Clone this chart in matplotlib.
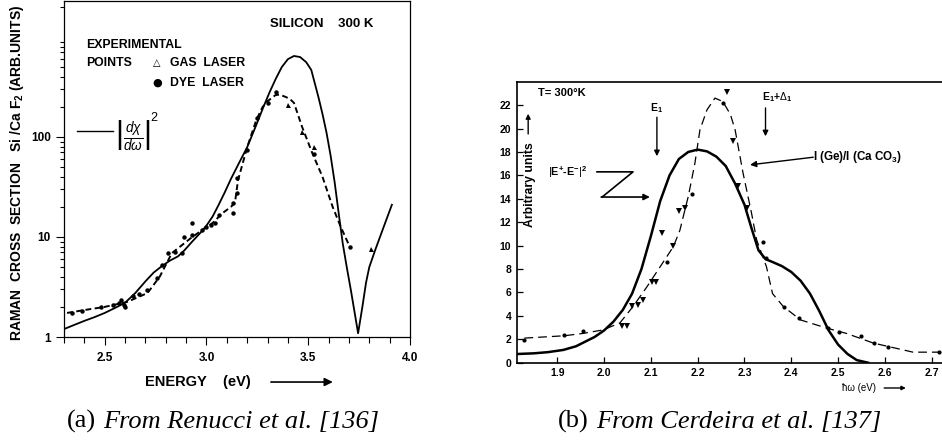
import matplotlib
matplotlib.use("Agg")
import matplotlib.pyplot as plt
from matplotlib.ticker import FixedLocator, LogLocator, NullFormatter, FuncFormatter

plt.rcParams['font.family'] = ['Liberation Sans', 'DejaVu Sans']
plt.rcParams['mathtext.fontset'] = 'custom'
plt.rcParams['mathtext.rm'] = 'Liberation Sans'
plt.rcParams['mathtext.it'] = 'Liberation Sans:italic'
plt.rcParams['mathtext.bf'] = 'Liberation Sans:bold'

# ---- silicon, 300 K (log scale) ----
si_theory_E = [2.30, 2.35, 2.40, 2.45, 2.50, 2.55, 2.60, 2.65, 2.70, 2.74, 2.78, 2.82,
               2.86, 2.89, 2.93, 2.97, 3.00, 3.03, 3.06, 3.09, 3.12, 3.16, 3.20, 3.24,
               3.28, 3.31, 3.34, 3.37, 3.40, 3.43, 3.46, 3.49, 3.515, 3.55, 3.57, 3.59,
               3.61, 3.63, 3.65, 3.67, 3.69, 3.71, 3.73, 3.745, 3.766, 3.784, 3.80,
               3.83, 3.87, 3.911]
si_theory = [1.2, 1.32, 1.45, 1.58, 1.74, 1.95, 2.2, 2.75, 3.6, 4.4, 5.1, 5.8,
             6.4, 7.3, 9.0, 11.0, 13.0, 16.0, 21.0, 28.0, 38.0, 55.0, 79.0, 125.0,
             200.0, 280.0, 380.0, 500.0, 600.0, 646.0, 630.0, 560.0, 468.0, 251.0, 170.0, 110.0,
             65.0, 35.0, 17.0, 8.5, 4.9, 2.9, 1.66, 1.09, 2.0, 3.5, 5.0,
             7.5, 12.5, 21.0]

si_fit_E = [2.315, 2.40, 2.50, 2.61, 2.71, 2.77, 2.83, 2.93, 3.03, 3.08, 3.12, 3.14,
            3.155, 3.20, 3.245, 3.276, 3.30, 3.34, 3.36, 3.39, 3.41, 3.43, 3.47, 3.52,
            3.57, 3.62, 3.66, 3.705]
si_fit = [1.74, 1.86, 2.0, 2.24, 2.75, 4.0, 6.9, 10.0, 13.8, 17.4, 20.0, 22.0,
          37.0, 79.0, 148.0, 200.0, 228.0, 263.0, 265.0, 251.0, 240.0, 219.0, 126.0, 69.0,
          40.0, 20.0, 12.6, 7.9]

dye_E = [2.34, 2.39, 2.48, 2.54, 2.57, 2.58, 2.595, 2.60, 2.64, 2.67, 2.71, 2.755,
         2.78, 2.81, 2.845, 2.88, 2.89, 2.93, 2.93, 2.98, 3.00, 3.02, 3.04, 3.06,
         3.13, 3.13, 3.15, 3.15, 3.20, 3.25, 3.30, 3.34, 3.53, 3.705]
dye = [1.75, 1.82, 2.0, 2.09, 2.2, 2.34, 2.1, 2.0, 2.57, 2.69, 2.95, 3.9,
       5.25, 6.9, 7.1, 6.9, 10.0, 13.8, 10.5, 11.7, 12.6, 13.2, 13.8, 16.6,
       17.4, 22.0, 27.5, 39.0, 74.0, 155.0, 219.0, 282.0, 68.0, 7.9]

gas_E = [3.40, 3.47, 3.53, 3.81]
gas = [209.0, 112.0, 79.0, 7.6]

# ---- germanium, 300 K (linear scale) ----
ge_theory_E = [1.813, 1.85, 1.88, 1.913, 1.94, 1.96, 1.98, 2.00, 2.02, 2.04, 2.06,
               2.08, 2.10, 2.12, 2.14, 2.16, 2.18, 2.20, 2.22, 2.24, 2.26, 2.28,
               2.30, 2.315, 2.33, 2.345, 2.36, 2.38, 2.40, 2.42, 2.44, 2.46, 2.48,
               2.50, 2.52, 2.54, 2.564]
ge_theory = [0.74, 0.8, 0.9, 1.09, 1.4, 1.8, 2.2, 2.75, 3.5, 4.5, 5.9,
             8.0, 10.8, 13.8, 16.0, 17.4, 18.0, 18.2, 18.05, 17.6, 16.8, 15.3,
             13.5, 11.5, 9.6, 8.85, 8.6, 8.25, 7.75, 7.0, 5.9, 4.4, 2.75,
             1.55, 0.75, 0.22, 0.0]

ge_fit_E = [1.83, 1.915, 1.955, 1.998, 2.034, 2.062, 2.092, 2.12, 2.148, 2.162, 2.18,
            2.194, 2.205, 2.22, 2.237, 2.254, 2.27, 2.28, 2.297, 2.315, 2.326, 2.347,
            2.36, 2.383, 2.42, 2.476, 2.518, 2.575, 2.611, 2.66, 2.722]
ge_fit = [2.1, 2.3, 2.5, 2.8, 3.4, 4.8, 6.5, 8.2, 9.9, 11.3, 14.2,
          17.0, 19.9, 21.6, 22.6, 22.3, 21.2, 19.9, 16.2, 12.8, 10.5, 8.2,
          5.9, 4.8, 3.65, 2.95, 2.5, 1.68, 1.35, 0.9, 0.9]

ge_dots_E = [1.83, 1.915, 1.955, 2.134, 2.187, 2.254, 2.34, 2.346, 2.385, 2.417,
             2.478, 2.502, 2.55, 2.576, 2.607, 2.716]
ge_dots = [1.94, 2.35, 2.74, 8.6, 14.4, 22.2, 10.3, 8.9, 4.75, 3.8,
           2.97, 2.6, 2.28, 1.68, 1.35, 0.9]

ge_tri_E = [2.038, 2.049, 2.06, 2.073, 2.084, 2.102, 2.112, 2.123, 2.148, 2.16,
            2.173, 2.262, 2.276, 2.286, 2.305]
ge_tri = [3.1, 3.15, 4.85, 4.95, 5.35, 6.9, 6.9, 11.1, 10.0, 12.96,
          13.2, 23.1, 18.9, 15.1, 13.2]

si_xticks = [2.5, 3.0, 3.5, 4.0]
ge_xticks = [1.9, 2.0, 2.1, 2.2, 2.3, 2.4, 2.5, 2.6, 2.7]
ge_yticks = list(range(0, 24, 2))

captions = [('(a)', 'From Renucci et al. [136]'),
            ('(b)', 'From Cerdeira et al. [137]')]

fig = plt.figure(figsize=(9.42, 4.44), dpi=100)

# ================= panel (a) =================
ax = fig.add_axes([64 / 942, 107 / 444, 346 / 942, 336 / 444])
ax.set_yscale('log')
ax.set_xlim(2.3, 4.0)
ax.set_ylim(1, 2290)

ax.plot(si_theory_E, si_theory, color='k', lw=1.3)
ax.plot(si_fit_E, si_fit, color='k', lw=1.4, ls=(0, (3, 1.8)))
ax.plot(dye_E, dye, 'o', color='k', ms=3.2, mew=0)
ax.plot(gas_E, gas, '^', color='k', ms=3.6, mew=0)

ax.xaxis.set_major_locator(FixedLocator(si_xticks))
ax.xaxis.set_minor_locator(FixedLocator([2.3 + 0.1 * i for i in range(18)]))
ax.xaxis.set_major_formatter(FuncFormatter(lambda v, p: f'{v:.1f}'))
ax.yaxis.set_major_locator(FixedLocator([1, 10, 100]))
ax.yaxis.set_minor_locator(LogLocator(base=10, subs=range(2, 10)))
ax.yaxis.set_minor_formatter(NullFormatter())
ax.yaxis.set_major_formatter(FuncFormatter(lambda v, p: f'{v:g}'))
ax.tick_params(which='both', direction='out', top=False, right=False,
               labelsize=8.5, width=0.8)
ax.tick_params(axis='x', which='major', length=6, pad=5)
ax.tick_params(axis='x', which='minor', length=4)
ax.tick_params(axis='y', which='major', length=6)
ax.tick_params(axis='y', which='minor', length=3)
for lab in ax.get_xticklabels() + ax.get_yticklabels():
    lab.set_fontweight('bold')
for s in ax.spines.values():
    s.set_linewidth(0.9)

ax.text(0.595, 0.932, 'SILICON    300 K', transform=ax.transAxes, fontsize=9.5,
        va='center', ha='left', fontweight='bold')
ax.text(0.064, 0.869, 'EXPERIMENTAL', transform=ax.transAxes, fontsize=8.8,
        va='center', ha='left', fontweight='bold')
ax.text(0.064, 0.815, 'POINTS', transform=ax.transAxes, fontsize=8.8,
        va='center', ha='left', fontweight='bold')
ax.text(0.269, 0.815, '△', transform=ax.transAxes, fontsize=7, va='center',
        ha='center', family=['DejaVu Sans'])
ax.text(0.306, 0.815, 'GAS  LASER', transform=ax.transAxes, fontsize=8.8,
        va='center', ha='left', fontweight='bold')
ax.text(0.269, 0.756, '●', transform=ax.transAxes, fontsize=8, va='center',
        ha='center', family=['DejaVu Sans'])
ax.text(0.306, 0.756, 'DYE  LASER', transform=ax.transAxes, fontsize=8.8,
        va='center', ha='left', fontweight='bold')
# key for the theory curve: line sample followed by |dchi/domega|^2
ax.plot([0.038, 0.142], [0.613, 0.613], color='k', lw=1.0, transform=ax.transAxes)
ax.text(0.147, 0.600, r'$\left|\frac{d\chi}{d\omega}\right|$', transform=ax.transAxes,
        fontsize=14, va='center', ha='left')
ax.text(0.250, 0.652, '2', transform=ax.transAxes, fontsize=9, va='center', ha='left')

ax.text(-0.136, 0.488, r'RAMAN  CROSS  SECTION   Si /Ca F$_\mathregular{2}$ (ARB.UNITS)',
        transform=ax.transAxes, rotation=90, fontsize=10, fontweight='bold',
        va='center', ha='center')
ax.text(0.387, -0.134, 'ENERGY    (eV)', transform=ax.transAxes, fontsize=10.5,
        fontweight='bold', va='center', ha='center')
ax.annotate('', xy=(0.785, -0.134), xytext=(0.590, -0.134),
            xycoords='axes fraction', textcoords='axes fraction',
            arrowprops=dict(arrowstyle='-|>', color='k', lw=1.2, mutation_scale=12))

# ================= panel (b) =================
bx = fig.add_axes([516.7 / 942, 81.3 / 444, 425.3 / 942, 281 / 444])
bx.set_xlim(1.8135, 2.722)
bx.set_ylim(0, 24)

bx.plot(ge_theory_E, ge_theory, color='k', lw=1.8)
bx.plot(ge_fit_E, ge_fit, color='k', lw=0.9, ls=(0, (7, 4)))
bx.plot(ge_dots_E, ge_dots, 'o', color='k', ms=3.0, mew=0)
bx.plot(ge_tri_E, ge_tri, 'v', color='k', ms=4.2, mew=0)

bx.xaxis.set_major_locator(FixedLocator(ge_xticks))
bx.xaxis.set_major_formatter(FuncFormatter(lambda v, p: f'{v:.1f}'))
bx.yaxis.set_major_locator(FixedLocator(ge_yticks))
bx.tick_params(direction='in', length=4, width=0.9, labelsize=7.5, pad=4)
for lab in bx.get_xticklabels() + bx.get_yticklabels():
    lab.set_fontweight('bold')
bx.spines['right'].set_visible(False)
for s in ['left', 'bottom', 'top']:
    bx.spines[s].set_linewidth(1.2)

bx.text(1.859, 23.0, 'T= 300°K', fontsize=8, fontweight='bold', va='center', ha='left')
bx.text(2.113, 21.75, r'E$_\mathregular{1}$', fontsize=7.5, fontweight='bold',
        va='center', ha='center')
bx.annotate('', xy=(2.113, 17.4), xytext=(2.113, 21.2),
            arrowprops=dict(arrowstyle='-|>', color='k', lw=1.0, mutation_scale=8))
bx.text(2.369, 22.7, r'E$_\mathregular{1}$+$\Delta_\mathregular{1}$', fontsize=7.5,
        fontweight='bold', va='center', ha='center')
bx.annotate('', xy=(2.345, 19.1), xytext=(2.345, 22.0),
            arrowprops=dict(arrowstyle='-|>', color='k', lw=1.0, mutation_scale=8))
bx.text(1.842, 15.2, 'Arbitrary units', rotation=90, fontsize=8.8, fontweight='bold',
        va='center', ha='center')
bx.annotate('', xy=(1.838, 21.5), xytext=(1.838, 19.3),
            arrowprops=dict(arrowstyle='-|>', color='k', lw=1.0, mutation_scale=7))

# Z-shaped pointer from the |E+ - E-|^2 label to the solid curve
bx.text(1.880, 16.3, r'$|$E$^\mathregular{+}$-E$^\mathregular{-}|^\mathregular{2}$',
        fontsize=7.8, fontweight='bold', va='center', ha='left')
bx.plot([1.985, 2.062, 1.996], [16.3, 16.3, 14.15], color='k', lw=1.2)
bx.annotate('', xy=(2.098, 14.15), xytext=(1.994, 14.15),
            arrowprops=dict(arrowstyle='-|>', color='k', lw=1.2, mutation_scale=9,
                            shrinkA=0, shrinkB=0))

bx.text(2.446, 17.55, r'I (Ge)/I (Ca CO$_\mathregular{3}$)', fontsize=8.4,
        fontweight='bold', va='center', ha='left')
bx.annotate('', xy=(2.312, 16.9), xytext=(2.447, 17.55),
            arrowprops=dict(arrowstyle='-|>', color='k', lw=1.0, mutation_scale=9,
                            shrinkA=0, shrinkB=0))

bx.text(0.765, -0.09, 'ħω (eV)', transform=bx.transAxes, fontsize=7,
        va='center', ha='left')
bx.annotate('', xy=(0.915, -0.09), xytext=(0.864, -0.09),
            xycoords='axes fraction', textcoords='axes fraction',
            arrowprops=dict(arrowstyle='-|>', color='k', lw=1.0, mutation_scale=6,
                            shrinkA=0, shrinkB=0))

# ================= captions =================
# upright tag, then the italic source placed right after it
for x0, (tag, src) in zip([67 / 942, 558 / 942], captions):
    t = fig.text(x0, 0.05, tag, family='Liberation Serif', fontsize=19,
                 ha='left', va='center')
    bx.annotate(src, xy=(1, 0.5), xycoords=t, xytext=(5, 0),
                textcoords='offset points', ha='left', va='center',
                family='Liberation Serif', style='italic', fontsize=19,
                annotation_clip=False)

fig.savefig('out.png', dpi=100)
